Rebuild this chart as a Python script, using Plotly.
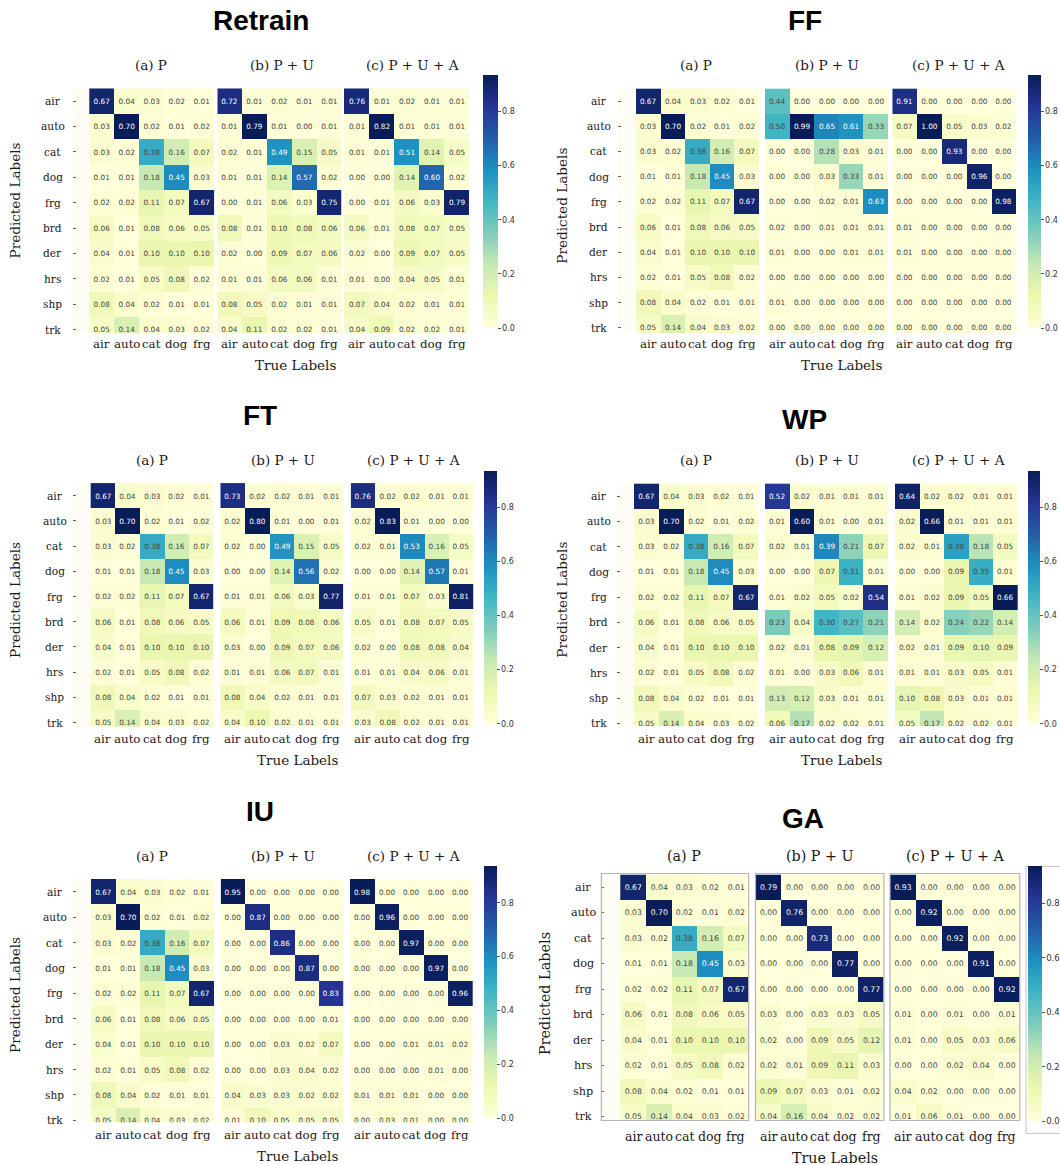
import plotly.graph_objects as go

W, H = 1060, 1165

# ---------------------------------------------------------------- data
true_labels = ["air", "auto", "cat", "dog", "frg"]
pred_labels = ["air", "auto", "cat", "dog", "frg", "brd", "der", "hrs", "shp", "trk"]
method_names = ["Retrain", "FF", "FT", "WP", "IU", "GA"]
stage_names = ["(a) P", "(b) P + U", "(c) P + U + A"]

# rows: predicted label, columns: true label
cm_p = [
    [0.67, 0.04, 0.03, 0.02, 0.01],
    [0.03, 0.70, 0.02, 0.01, 0.02],
    [0.03, 0.02, 0.38, 0.16, 0.07],
    [0.01, 0.01, 0.18, 0.45, 0.03],
    [0.02, 0.02, 0.11, 0.07, 0.67],
    [0.06, 0.01, 0.08, 0.06, 0.05],
    [0.04, 0.01, 0.10, 0.10, 0.10],
    [0.02, 0.01, 0.05, 0.08, 0.02],
    [0.08, 0.04, 0.02, 0.01, 0.01],
    [0.05, 0.14, 0.04, 0.03, 0.02],
]

retrain_pu = [
    [0.72, 0.01, 0.02, 0.01, 0.01],
    [0.01, 0.79, 0.01, 0.00, 0.01],
    [0.02, 0.01, 0.49, 0.15, 0.05],
    [0.01, 0.01, 0.14, 0.57, 0.02],
    [0.00, 0.01, 0.06, 0.03, 0.75],
    [0.08, 0.01, 0.10, 0.08, 0.06],
    [0.02, 0.00, 0.09, 0.07, 0.06],
    [0.01, 0.01, 0.06, 0.06, 0.01],
    [0.08, 0.05, 0.02, 0.01, 0.01],
    [0.04, 0.11, 0.02, 0.02, 0.01],
]
retrain_pua = [
    [0.76, 0.01, 0.02, 0.01, 0.01],
    [0.01, 0.82, 0.01, 0.01, 0.01],
    [0.01, 0.01, 0.51, 0.14, 0.05],
    [0.00, 0.00, 0.14, 0.60, 0.02],
    [0.00, 0.01, 0.06, 0.03, 0.79],
    [0.06, 0.01, 0.08, 0.07, 0.05],
    [0.02, 0.00, 0.09, 0.07, 0.05],
    [0.01, 0.00, 0.04, 0.05, 0.01],
    [0.07, 0.04, 0.02, 0.01, 0.01],
    [0.04, 0.09, 0.02, 0.02, 0.01],
]

ff_pu = [
    [0.44, 0.00, 0.00, 0.00, 0.00],
    [0.50, 0.99, 0.65, 0.61, 0.33],
    [0.00, 0.00, 0.28, 0.03, 0.01],
    [0.00, 0.00, 0.03, 0.33, 0.01],
    [0.00, 0.00, 0.02, 0.01, 0.63],
    [0.02, 0.00, 0.01, 0.01, 0.01],
    [0.01, 0.00, 0.00, 0.01, 0.01],
    [0.00, 0.00, 0.00, 0.00, 0.00],
    [0.01, 0.00, 0.00, 0.00, 0.00],
    [0.00, 0.00, 0.00, 0.00, 0.00],
]
ff_pua = [
    [0.91, 0.00, 0.00, 0.00, 0.00],
    [0.07, 1.00, 0.05, 0.03, 0.02],
    [0.00, 0.00, 0.93, 0.00, 0.00],
    [0.00, 0.00, 0.00, 0.96, 0.00],
    [0.00, 0.00, 0.00, 0.00, 0.98],
    [0.01, 0.00, 0.00, 0.00, 0.00],
    [0.01, 0.00, 0.00, 0.00, 0.00],
    [0.00, 0.00, 0.00, 0.00, 0.00],
    [0.00, 0.00, 0.00, 0.00, 0.00],
    [0.00, 0.00, 0.00, 0.00, 0.00],
]

ft_pu = [
    [0.73, 0.02, 0.02, 0.01, 0.01],
    [0.02, 0.80, 0.01, 0.00, 0.01],
    [0.02, 0.00, 0.49, 0.15, 0.05],
    [0.00, 0.00, 0.14, 0.56, 0.02],
    [0.01, 0.01, 0.06, 0.03, 0.77],
    [0.06, 0.01, 0.09, 0.08, 0.06],
    [0.03, 0.00, 0.09, 0.07, 0.06],
    [0.01, 0.01, 0.06, 0.07, 0.01],
    [0.08, 0.04, 0.02, 0.01, 0.01],
    [0.04, 0.10, 0.02, 0.01, 0.01],
]
ft_pua = [
    [0.76, 0.02, 0.02, 0.01, 0.01],
    [0.02, 0.83, 0.01, 0.00, 0.00],
    [0.02, 0.01, 0.53, 0.16, 0.05],
    [0.00, 0.00, 0.14, 0.57, 0.01],
    [0.01, 0.01, 0.07, 0.03, 0.81],
    [0.05, 0.01, 0.08, 0.07, 0.05],
    [0.02, 0.00, 0.08, 0.08, 0.04],
    [0.01, 0.01, 0.04, 0.06, 0.01],
    [0.07, 0.03, 0.02, 0.01, 0.01],
    [0.03, 0.08, 0.02, 0.01, 0.01],
]

wp_pu = [
    [0.52, 0.02, 0.01, 0.01, 0.01],
    [0.01, 0.60, 0.01, 0.00, 0.01],
    [0.02, 0.01, 0.39, 0.21, 0.07],
    [0.00, 0.00, 0.07, 0.31, 0.01],
    [0.01, 0.02, 0.05, 0.02, 0.54],
    [0.23, 0.04, 0.30, 0.27, 0.21],
    [0.02, 0.01, 0.08, 0.09, 0.12],
    [0.01, 0.00, 0.03, 0.06, 0.01],
    [0.13, 0.12, 0.03, 0.01, 0.01],
    [0.06, 0.17, 0.02, 0.02, 0.01],
]
wp_pua = [
    [0.64, 0.02, 0.02, 0.01, 0.01],
    [0.02, 0.66, 0.01, 0.01, 0.01],
    [0.02, 0.01, 0.38, 0.18, 0.05],
    [0.00, 0.00, 0.09, 0.35, 0.01],
    [0.01, 0.02, 0.09, 0.05, 0.66],
    [0.14, 0.02, 0.24, 0.22, 0.14],
    [0.02, 0.01, 0.09, 0.10, 0.09],
    [0.01, 0.01, 0.03, 0.05, 0.01],
    [0.10, 0.08, 0.03, 0.01, 0.01],
    [0.05, 0.17, 0.02, 0.02, 0.01],
]

iu_pu = [
    [0.95, 0.00, 0.00, 0.00, 0.00],
    [0.00, 0.87, 0.00, 0.00, 0.00],
    [0.00, 0.00, 0.86, 0.00, 0.00],
    [0.00, 0.00, 0.00, 0.87, 0.00],
    [0.00, 0.00, 0.00, 0.00, 0.83],
    [0.00, 0.00, 0.00, 0.00, 0.01],
    [0.00, 0.00, 0.03, 0.02, 0.07],
    [0.00, 0.00, 0.03, 0.04, 0.02],
    [0.04, 0.03, 0.03, 0.02, 0.02],
    [0.01, 0.10, 0.05, 0.05, 0.05],
]
iu_pua = [
    [0.98, 0.00, 0.00, 0.00, 0.00],
    [0.00, 0.96, 0.00, 0.00, 0.00],
    [0.00, 0.00, 0.97, 0.00, 0.00],
    [0.00, 0.00, 0.00, 0.97, 0.00],
    [0.00, 0.00, 0.00, 0.00, 0.96],
    [0.00, 0.00, 0.00, 0.00, 0.00],
    [0.00, 0.00, 0.01, 0.01, 0.02],
    [0.00, 0.00, 0.00, 0.01, 0.00],
    [0.01, 0.01, 0.01, 0.00, 0.00],
    [0.00, 0.03, 0.01, 0.00, 0.00],
]

ga_pu = [
    [0.79, 0.00, 0.00, 0.00, 0.00],
    [0.00, 0.76, 0.00, 0.00, 0.00],
    [0.00, 0.00, 0.73, 0.00, 0.00],
    [0.00, 0.00, 0.00, 0.77, 0.00],
    [0.00, 0.00, 0.00, 0.00, 0.77],
    [0.03, 0.00, 0.03, 0.03, 0.05],
    [0.02, 0.00, 0.09, 0.05, 0.12],
    [0.02, 0.01, 0.09, 0.11, 0.03],
    [0.09, 0.07, 0.03, 0.01, 0.02],
    [0.04, 0.16, 0.04, 0.02, 0.02],
]
ga_pua = [
    [0.93, 0.00, 0.00, 0.00, 0.00],
    [0.00, 0.92, 0.00, 0.00, 0.00],
    [0.00, 0.00, 0.92, 0.00, 0.00],
    [0.00, 0.00, 0.00, 0.91, 0.00],
    [0.00, 0.00, 0.00, 0.00, 0.92],
    [0.01, 0.00, 0.01, 0.00, 0.01],
    [0.01, 0.00, 0.05, 0.03, 0.06],
    [0.00, 0.00, 0.02, 0.04, 0.00],
    [0.04, 0.02, 0.00, 0.00, 0.00],
    [0.01, 0.06, 0.01, 0.00, 0.00],
]

matrices = {
    "Retrain": [cm_p, retrain_pu, retrain_pua],
    "FF": [cm_p, ff_pu, ff_pua],
    "FT": [cm_p, ft_pu, ft_pua],
    "WP": [cm_p, wp_pu, wp_pua],
    "IU": [cm_p, iu_pu, iu_pua],
    "GA": [cm_p, ga_pu, ga_pua],
}

colorbar_ticks = [0.0, 0.2, 0.4, 0.6, 0.8]

# ---------------------------------------------------------------- styling / layout (pixels)
YLGNBU = ["#ffffd9", "#edf8b1", "#c7e9b4", "#7fcdbb", "#41b6c4",
          "#1d91c0", "#225ea8", "#253494", "#081d58"]
COLORSCALE = [[i / (len(YLGNBU) - 1), c] for i, c in enumerate(YLGNBU)]
CB_MAX = 0.935

SERIF = "DejaVu Serif"
SANS = "DejaVu Sans"
TITLE_FONT = "Liberation Sans, Arial, Helvetica"
INK = "#1a1a1a"

layouts = {
    "Retrain": dict(title=(261, 21), band=72.7,
                    heat=[(89.3, 214.3), (217.3, 341.7), (344.0, 469.3)],
                    top=88.3, rowh=25.4, bottom=333.3,
                    cbar=(482.7, 497.3, 75.0, 328.3),
                    sub_y=65, sub_x=[150.5, 281.7, 412.3],
                    xt_y=344, xlab=(295.5, 365), yt_x=52.5, ylab=(15, 200.5),
                    k=1.0, boxed=False),
    "FF": dict(title=(805, 21), band=618.0,
               heat=[(636.0, 759.0), (765.0, 888.3), (892.3, 1016.0)],
               top=88.4, rowh=25.2, bottom=333.0,
               cbar=(1028.0, 1040.7, 75.0, 328.3),
               sub_y=65, sub_x=[696, 827, 958],
               xt_y=344, xlab=(841, 365), yt_x=598.5, ylab=(561.7, 206),
               k=1.0, boxed=False),
    "FT": dict(title=(260, 416), band=73.3,
               heat=[(90.7, 213.3), (220.3, 343.3), (350.7, 473.3)],
               top=483.1, rowh=25.2, bottom=726.7,
               cbar=(484.0, 496.7, 470.7, 723.3),
               sub_y=460, sub_x=[152, 282.7, 413.7],
               xt_y=739, xlab=(297.3, 760), yt_x=54.5, ylab=(15, 600),
               k=1.0, boxed=False),
    "WP": dict(title=(804, 420), band=617.3,
               heat=[(634.0, 758.3), (765.0, 888.3), (895.0, 1017.7)],
               top=483.4, rowh=25.26, bottom=726.0,
               cbar=(1028.3, 1040.0, 470.7, 724.0),
               sub_y=460, sub_x=[696, 826.7, 958],
               xt_y=739, xlab=(841, 760), yt_x=598.7, ylab=(561.7, 600),
               k=1.0, boxed=False),
    "IU": dict(title=(260, 811), band=73.3,
               heat=[(91.0, 214.0), (220.7, 343.3), (350.0, 472.7)],
               top=879.0, rowh=25.4, bottom=1122.3,
               cbar=(484.0, 496.7, 866.3, 1118.3),
               sub_y=856, sub_x=[152, 282.7, 413.7],
               xt_y=1135, xlab=(297.3, 1155.7), yt_x=54.5, ylab=(15, 995),
               k=1.0, boxed=False),
    "GA": dict(title=(803, 818), band=601.3,
               heat=[(620.3, 748.7), (755.5, 883.9), (890.0, 1019.8)],
               top=874.5, rowh=25.5, bottom=1120.5,
               cbar=(1027.6, 1041.1, 866.4, 1121.2),
               sub_y=856, sub_x=[683.8, 819.7, 955.0],
               xt_y=1136.4, xlab=(834.7, 1157.7), yt_x=583.2, ylab=(545.2, 993.8),
               k=1.06, boxed=True),
}


def px(x):
    return x / W


def py(y):
    return 1 - y / H


fig = go.Figure()
annotations = []
shapes = []
axes = {}
n = 0

for name in method_names:
    g = layouts[name]
    k = g["k"]
    mats = matrices[name]
    first_y_ref = None
    for s, z in enumerate(mats):
        n += 1
        xr = "x" if n == 1 else f"x{n}"
        yr = "y" if n == 1 else f"y{n}"
        xkey = "xaxis" if n == 1 else f"xaxis{n}"
        ykey = "yaxis" if n == 1 else f"yaxis{n}"
        l, r = g["heat"][s]
        cw = (r - l) / len(true_labels)
        left = g["band"] if s == 0 else l
        x_lo = -0.5 - (l - left) / cw
        y_lo = -0.5 + (g["bottom"] - g["top"]) / g["rowh"]

        axes[xkey] = dict(domain=[px(left), px(r)], range=[x_lo, len(true_labels) - 0.5],
                          anchor=yr, showgrid=False, zeroline=False, showline=False,
                          showticklabels=False, ticks="", fixedrange=True)
        axes[ykey] = dict(domain=[py(g["bottom"]), py(g["top"])], range=[y_lo, -0.5],
                          anchor=xr, showgrid=False, zeroline=False, showline=False,
                          showticklabels=False, fixedrange=True,
                          tickvals=list(range(len(pred_labels))),
                          ticks="inside" if s == 0 else "", ticklen=3, tickwidth=1,
                          tickcolor="#666666")
        if s == 0:
            first_y_ref = yr

        flat = [v for row in z for v in row]
        fig.add_trace(go.Heatmap(
            z=z, x=list(range(len(true_labels))), y=list(range(len(pred_labels))),
            xaxis=xr, yaxis=yr, zmin=min(flat), zmax=max(flat),
            colorscale=COLORSCALE, showscale=False, xgap=0, ygap=0,
            texttemplate="%{z:.2f}", textfont=dict(family=SANS, size=7.3 * k),
            hoverinfo="skip",
        ))

        # column labels under each matrix
        for j, lab in enumerate(true_labels):
            annotations.append(dict(text=lab, xref=xr, x=j, yref="paper", y=py(g["xt_y"]),
                                    xanchor="center", yanchor="middle", showarrow=False,
                                    font=dict(family=SERIF, size=11.8 * k, color=INK)))
        # stage caption above each matrix
        annotations.append(dict(text=stage_names[s], xref="paper", x=px(g["sub_x"][s]),
                                yref="paper", y=py(g["sub_y"]), xanchor="center",
                                yanchor="middle", showarrow=False,
                                font=dict(family=SERIF, size=13.5 * k, color=INK)))
        if g["boxed"]:
            shapes.append(dict(type="rect", xref="paper", yref="paper",
                               x0=px(left), x1=px(r), y0=py(g["bottom"]), y1=py(g["top"] - 1),
                               line=dict(color="#b4b4b4", width=1.2), fillcolor="rgba(0,0,0,0)"))

        if s == 2:
            cl, cr, ct, cz = g["cbar"]
            fig.add_trace(go.Scatter(
                x=[None], y=[None], xaxis=xr, yaxis=yr, mode="markers",
                hoverinfo="skip", showlegend=False,
                marker=dict(color=[0.0], cmin=0, cmax=CB_MAX, colorscale=COLORSCALE,
                            showscale=True,
                            colorbar=dict(x=px(cl), xanchor="left", xref="paper",
                                          y=py(ct), yanchor="top", yref="paper",
                                          lenmode="pixels", len=cz - ct,
                                          thicknessmode="pixels", thickness=cr - cl,
                                          xpad=0, ypad=0, outlinewidth=0,
                                          tickvals=colorbar_ticks, tickformat=".1f",
                                          ticks="outside", ticklen=3, tickwidth=1,
                                          tickcolor="#555555",
                                          tickfont=dict(family=SANS, size=8 * k,
                                                        color="#333333"))),
            ))
            if g["boxed"]:
                shapes.append(dict(type="rect", xref="paper", yref="paper",
                                   x0=px(cl - 1.6), x1=px(W + 5), y0=py(1133.4), y1=py(ct),
                                   line=dict(color="#c4c4c4", width=1),
                                   fillcolor="rgba(0,0,0,0)"))

    # row labels, centred in the gutter
    for i, lab in enumerate(pred_labels):
        annotations.append(dict(text=lab, xref="paper", x=px(g["yt_x"]), yref=first_y_ref, y=i,
                                xanchor="center", yanchor="middle", showarrow=False,
                                font=dict(family=SERIF, size=10.6 * k, color=INK)))
    # method title, axis titles
    annotations.append(dict(text=f"<b>{name}</b>", xref="paper", x=px(g["title"][0]),
                            yref="paper", y=py(g["title"][1]), xanchor="center",
                            yanchor="middle", showarrow=False,
                            font=dict(family=TITLE_FONT, size=28, color="#000000")))
    annotations.append(dict(text="True Labels", xref="paper", x=px(g["xlab"][0]),
                            yref="paper", y=py(g["xlab"][1]), xanchor="center",
                            yanchor="middle", showarrow=False,
                            font=dict(family=SERIF, size=13.5 * k, color=INK)))
    annotations.append(dict(text="Predicted Labels", xref="paper", x=px(g["ylab"][0]),
                            yref="paper", y=py(g["ylab"][1]), xanchor="center",
                            yanchor="middle", showarrow=False, textangle=-90,
                            font=dict(family=SERIF, size=13.6 * k, color=INK)))

fig.update_layout(
    width=W, height=H, margin=dict(l=0, r=0, t=0, b=0, pad=0),
    paper_bgcolor="white", plot_bgcolor="#fdfdf6",
    annotations=annotations, shapes=shapes, showlegend=False,
    **axes,
)

fig.write_html("out.html")
